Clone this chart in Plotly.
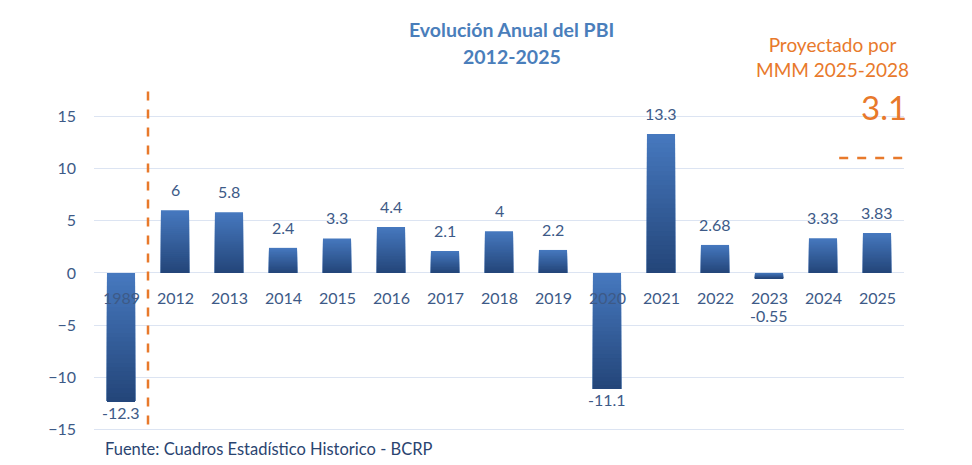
import plotly.graph_objects as go

years = ["1989", "2012", "2013", "2014", "2015", "2016", "2017", "2018",
         "2019", "2020", "2021", "2022", "2023", "2024", "2025"]
growth = [-12.3, 6, 5.8, 2.4, 3.3, 4.4, 2.1, 4, 2.2, -11.1, 13.3, 2.68, -0.55, 3.33, 3.83]
value_labels = ["-12.3", "6", "5.8", "2.4", "3.3", "4.4", "2.1", "4", "2.2",
                "-11.1", "13.3", "2.68", "-0.55", "3.33", "3.83"]
y_ticks = [-15, -10, -5, 0, 5, 10, 15]
projection_value = 3.1
projection_line_y = 11

TXT = "#3d5a87"
FONT = "Lato"
ORANGE = "#e8792b"

def lerp(c1, c2, t):
    a = [int(c1[i:i + 2], 16) for i in (1, 3, 5)]
    b = [int(c2[i:i + 2], 16) for i in (1, 3, 5)]
    return "#%02x%02x%02x" % tuple(round(a[k] + (b[k] - a[k]) * t) for k in range(3))

TOP, BOT = "#4678be", "#24467a"
N = 30
xs = list(range(len(years)))
fig = go.Figure()
for i in range(N):
    bases, hs = [], []
    for v in growth:
        h = abs(v) / N
        bases.append(min(v, 0))
        hs.append(abs(v) - i * h)
    fig.add_trace(go.Bar(x=xs, y=hs, base=bases, width=0.52,
                         marker=dict(color=lerp(TOP, BOT, i / (N - 1)), line=dict(width=0)),
                         hoverinfo="skip", showlegend=False))

ann = []
for xi, (yr, v, lab) in enumerate(zip(years, growth, value_labels)):
    ann.append(dict(x=xi, y=0, text=yr, showarrow=False, yanchor="top", yshift=-13,
                    font=dict(family=FONT, size=16, color=TXT)))
    if v >= 0:
        ann.append(dict(x=xi, y=v, text=lab, showarrow=False, yanchor="bottom", yshift=9,
                        font=dict(family=FONT, size=16, color=TXT)))
    elif v > -2:
        ann.append(dict(x=xi, y=0, text=lab, showarrow=False, yanchor="top", yshift=-31,
                        font=dict(family=FONT, size=16, color=TXT)))
    else:
        ann.append(dict(x=xi, y=v, text=lab, showarrow=False, yanchor="top", yshift=1,
                        font=dict(family=FONT, size=16, color=TXT)))

ann += [
    dict(x=0.5156, y=1.0, xref="paper", yref="paper", xanchor="center", yanchor="middle",
         text="<b>Evolución Anual del PBI</b>", showarrow=False, yshift=61,
         font=dict(family=FONT, size=19.5, color="#4a7ebb")),
    dict(x=0.5156, y=1.0, xref="paper", yref="paper", xanchor="center", yanchor="middle",
         text="<b>2012-2025</b>", showarrow=False, yshift=34,
         font=dict(family=FONT, size=19.5, color="#4a7ebb")),
    dict(x=1.009, y=1.0, xref="paper", yref="paper", xanchor="right", yanchor="middle",
         text="Proyectado por<br>MMM 2025-2028", showarrow=False, yshift=33, align="center",
         font=dict(family=FONT, size=19, color=ORANGE)),
    dict(x=1.006, y=1.0, xref="paper", yref="paper", xanchor="right", yanchor="middle",
         text=str(projection_value), showarrow=False, yshift=-17,
         font=dict(family=FONT, size=33, color=ORANGE)),
    dict(x=0.0, y=0, xref="paper", yref="paper", xanchor="left", yanchor="middle",
         text="Fuente: Cuadros Estadístico Historico - BCRP", showarrow=False, xshift=9, yshift=-14,
         font=dict(family=FONT, size=16.5, color="#2a4470")),
]

fig.update_layout(
    width=972, height=465,
    margin=dict(l=86, r=76, t=82, b=38, autoexpand=False),
    paper_bgcolor="white", plot_bgcolor="white",
    barmode="overlay",
    annotations=ann,
    shapes=[
        dict(type="line", xref="x", yref="y", x0=0.5, x1=0.5, y0=-14.5, y1=17.5,
             line=dict(color=ORANGE, width=2.5, dash="dash")),
        dict(type="line", xref="x", yref="y", x0=13.3, x1=14.6,
             y0=projection_line_y, y1=projection_line_y,
             line=dict(color=ORANGE, width=2.5, dash="dash")),
    ],
    xaxis=dict(type="linear", showticklabels=False, showgrid=False, zeroline=False,
               range=[-0.5, 14.5], showline=False, ticks="", automargin=False),
    yaxis=dict(range=[-15.5, 17.5], tickvals=y_ticks, showgrid=True, gridcolor="#dce4f2",
               gridwidth=1, zeroline=False, showline=False, ticks="", ticklabelstandoff=17,
               automargin=False,
               tickfont=dict(family=FONT, size=16, color=TXT)),
)

fig.write_html("out.html")
